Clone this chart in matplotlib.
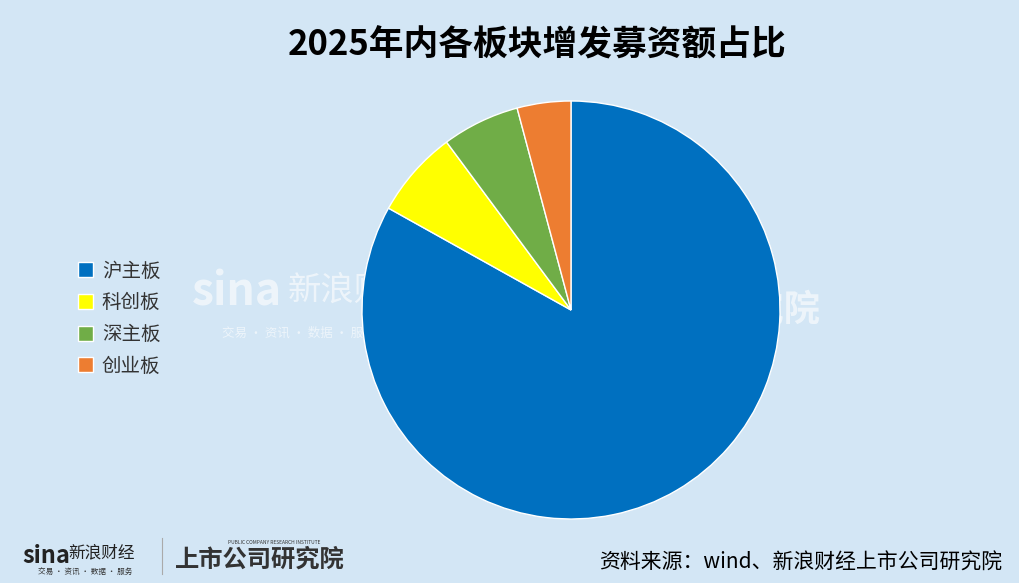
import matplotlib.pyplot as plt

plt.rcParams['font.family'] = ['Noto Sans CJK SC', 'DejaVu Sans']

labels = ['沪主板', '科创板', '深主板', '创业板']
shares = [83.1, 6.75, 6.0, 4.15]
colors = ['#0070C0', '#FFFF00', '#70AD47', '#ED7D31']
title = '2025年内各板块增发募资额占比'
source = '资料来源：wind、新浪财经上市公司研究院'

bg = '#D3E6F5'
fig = plt.figure(figsize=(10.19, 5.83), dpi=100, facecolor=bg)

W, H = 1019, 583
cx, cy, r = 571, 310, 209
ax = fig.add_axes([(cx - r) / W, (H - cy - r) / H, 2 * r / W, 2 * r / H])
ax.set_facecolor('none')
wedges, _ = ax.pie(shares, colors=colors, startangle=90, counterclock=False,
                   wedgeprops=dict(edgecolor='white', linewidth=1))
ax.set_xlim(-1, 1)
ax.set_ylim(-1, 1)
ax.set_aspect('equal')
ax.axis('off')

# faint watermark behind the pie
fig.text(192 / W, 1 - 292 / H, 'sina', fontsize=32, fontweight='bold', style='italic',
         color='white', alpha=0.6, va='center', zorder=-1)
fig.text(288 / W, 1 - 290 / H, '新浪财经', fontsize=24, color='white', alpha=0.6,
         va='center', zorder=-1)
fig.text(222 / W, 1 - 333 / H, '交易 · 资讯 · 数据 · 服务', fontsize=9, color='white',
         alpha=0.6, va='center', zorder=-1)
fig.text(820 / W, 1 - 310 / H, '上市公司研究院', fontsize=26, fontweight='bold',
         color='white', alpha=0.6, va='center', ha='right', zorder=-1)

fig.text(537 / W, 1 - 45 / H, title, fontsize=25, fontweight='bold', ha='center',
         va='center', color='black')

leg = fig.legend(wedges, labels, loc='upper left', bbox_to_anchor=(60 / W, 1 - 243 / H),
                 frameon=False, fontsize=14, handlelength=0.8, handleheight=0.8,
                 handletextpad=0.45, labelspacing=0.55, labelcolor='#333333')
for h in leg.legend_handles:
    h.set_edgecolor('white')
    h.set_linewidth(1)

fig.text(1002 / W, 1 - 563 / H, source, fontsize=15, ha='right', va='center', color='black')

# footer logos
fig.text(22 / W, 1 - 556 / H, 'sina', fontsize=17, fontweight='bold', style='italic',
         color='#222222', va='center')
fig.text(68 / W, 1 - 553 / H, '新浪财经', fontsize=12, color='#222222', va='center')
fig.text(38 / W, 1 - 572 / H, '交易 · 资讯 · 数据 · 服务', fontsize=5.5, color='#333333',
         va='center')
fig.add_artist(plt.Line2D([162 / W, 162 / W], [1 - 574 / H, 1 - 538 / H],
                          color='#AAAAAA', linewidth=0.8))
fig.text(175 / W, 1 - 560 / H, '上市公司研究院', fontsize=17.5, fontweight='bold',
         style='italic', color='#333333', va='center')
fig.text(228 / W, 1 - 543 / H, 'PUBLIC COMPANY RESEARCH INSTITUTE', fontsize=3.5,
         color='#333333', va='center')

fig.savefig('out.png', dpi=100, facecolor=bg)
